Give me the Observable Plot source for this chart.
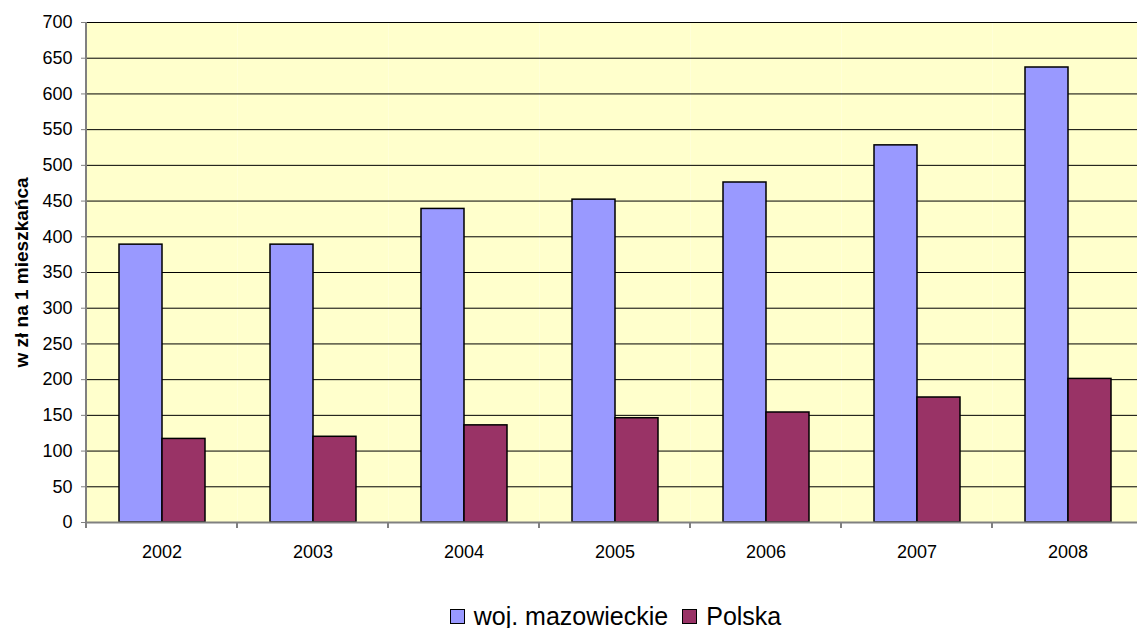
<!DOCTYPE html>
<html>
<head>
<meta charset="utf-8">
<script src="https://cdn.jsdelivr.net/npm/d3@7"></script>
<script src="https://cdn.jsdelivr.net/npm/@observablehq/plot@0.6"></script>
<style>
  html, body { margin: 0; padding: 0; background: #fff; }
  body { width: 1137px; height: 628px; overflow: hidden; font-family: "Liberation Sans", Arial, sans-serif; }
  #chart { width: 1137px; height: 580px; overflow: hidden; }
  #chart svg { display: block; max-width: none !important; width: 1145px !important; height: 580px !important; }
  g[aria-label="y-axis label"] text { font-weight: bold; font-size: 19px; }
  #legend { box-sizing: border-box; width: 1137px; padding-left: 94px; padding-top: 24px; display: flex; justify-content: center; align-items: center; font-size: 25px; line-height: 25px; color: #000; }
  .sw { width: 13px; height: 13px; border: 1.5px solid #000; margin-right: 9px; }
  .item { display: flex; align-items: center; margin-right: 14px; }
  .item:last-child { margin-right: 0; }
</style>
</head>
<body>
<div id="chart"></div>
<div id="legend"></div>
<script>
const years = ["2002", "2003", "2004", "2005", "2006", "2007", "2008"];
const seriesNames = ["woj. mazowieckie", "Polska"];
const mazowieckie = [389, 389, 439, 452, 476, 528, 637];
const polska = [117, 120, 136, 146, 154, 175, 201];
const seriesColors = ["#9999ff", "#993366"];
const yTicks = [0, 50, 100, 150, 200, 250, 300, 350, 400, 450, 500, 550, 600, 650, 700];
const yTitle = "w zł na 1 mieszkańca";

const data = years.flatMap((yr, i) => [
  {year: yr, series: seriesNames[0], value: mazowieckie[i]},
  {year: yr, series: seriesNames[1], value: polska[i]}
]);

const plot = Plot.plot({
  width: 1145,
  height: 580,
  marginLeft: 84,
  marginRight: 0,
  marginTop: 22,
  marginBottom: 58,
  style: {fontFamily: "Liberation Sans, Arial, sans-serif", fontSize: "18px", background: "#fff", color: "#000"},
  fx: {domain: years, padding: 0, label: null, axis: null},
  x: {domain: seriesNames, paddingInner: 0, paddingOuter: 0.74, axis: null},
  y: {domain: [0, 700], label: null},
  color: {domain: seriesNames, range: seriesColors},
  marks: [
    Plot.frame({fill: "#ffffcc", stroke: null}),
    Plot.gridY(yTicks, {stroke: "#000", strokeOpacity: 1, strokeWidth: 1}),
    Plot.barY(data, {fx: "year", x: "series", y: "value", fill: "series", stroke: "#000", strokeWidth: 1.5}),
    Plot.ruleY([0], {stroke: "#808080", strokeWidth: 2}),
    Plot.axisY(yTicks, {tickSize: 5, tickPadding: 9, stroke: "#808080", label: yTitle, labelAnchor: "center", labelOffset: 72, labelArrow: "none"}),
    Plot.axisFx({anchor: "bottom", tickSize: 0, tickPadding: 23, label: null})
  ]
});

document.getElementById("chart").appendChild(plot);

// left axis line and category boundary tick marks, from Plot's own scales
const svg = d3.select(plot.tagName.toLowerCase() === "svg" ? plot : plot.querySelector("svg"));
const fx = plot.scale("fx");
const yS = plot.scale("y");
const yBottom = yS.apply(0), yTopPx = yS.apply(700);
const bounds = years.map(yr => fx.apply(yr));
bounds.push(fx.apply(years[years.length - 1]) + fx.bandwidth);
const g = svg.append("g").attr("stroke", "#808080").attr("stroke-width", 2);
g.append("line").attr("x1", bounds[0]).attr("x2", bounds[0]).attr("y1", yTopPx).attr("y2", yBottom + 1);
bounds.forEach(b => {
  g.append("line").attr("x1", b).attr("x2", b).attr("y1", yBottom).attr("y2", yBottom + 6);
});

// legend
const leg = d3.select("#legend");
seriesNames.forEach((s, i) => {
  const it = leg.append("div").attr("class", "item");
  it.append("div").attr("class", "sw").style("background", seriesColors[i]);
  it.append("span").text(s);
});
</script>
</body>
</html>
